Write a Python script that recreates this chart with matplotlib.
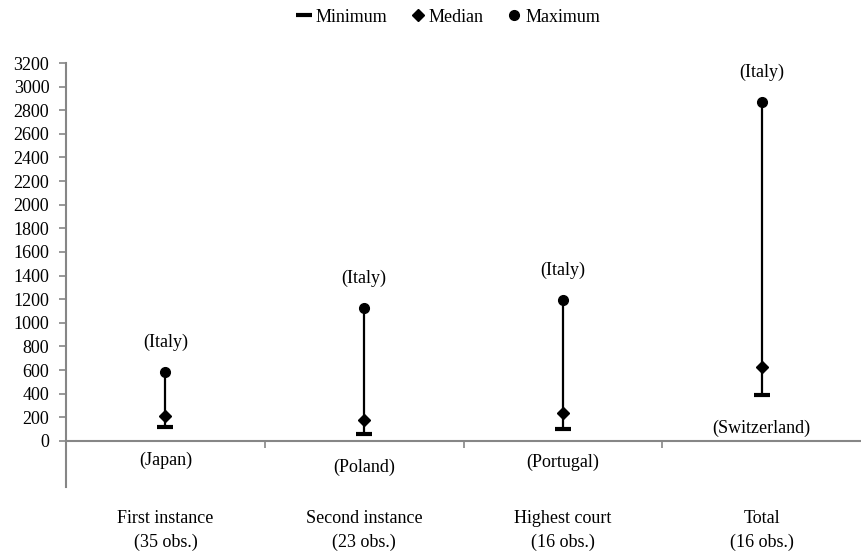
import matplotlib
matplotlib.use("Agg")
import matplotlib.pyplot as plt
import numpy as np

categories = ["First instance\n(35 obs.)", "Second instance\n(23 obs.)",
              "Highest court\n(16 obs.)", "Total\n(16 obs.)"]
minimum = [118, 60, 105, 390]
median = [210, 180, 237, 627]
maximum = [584, 1126, 1194, 2870]
max_country = ["(Italy)", "(Italy)", "(Italy)", "(Italy)"]
min_country = ["(Japan)", "(Poland)", "(Portugal)", "(Switzerland)"]
yticks = list(range(0, 3201, 200))

plt.rcParams["font.family"] = ["Liberation Serif", "DejaVu Serif"]
plt.rcParams["font.size"] = 13

gray = "#868686"
fig = plt.figure(figsize=(8.61, 5.52), dpi=100)
ax = fig.add_axes([66 / 861, 1 - 487 / 552, 1 - 66 / 861, (487 - 63) / 552])

x = np.arange(len(categories)) + 0.5
ax.vlines(x, minimum, maximum, color="black", lw=1.6, zorder=2)
ax.plot(x, minimum, ls="none", marker="_", ms=11, mew=3, color="black", label="Minimum", zorder=3)
ax.plot(x, median, ls="none", marker="D", ms=6, color="black", label="Median", zorder=3)
ax.plot(x, maximum, ls="none", marker="o", ms=7, color="black", label="Maximum", zorder=3)

for xi, v, s in zip(x, maximum, max_country):
    ax.annotate(s, (xi, v), xytext=(0, 21), textcoords="offset points",
                ha="center", va="center")
for xi, v, s in zip(x, minimum, min_country):
    ax.annotate(s, (xi, v), xytext=(0, -24), textcoords="offset points",
                ha="center", va="center")

ax.set_xlim(0, len(categories))
ax.set_ylim(-390, 3200)
ax.set_yticks(yticks)
ax.tick_params(axis="y", direction="out", length=5, color=gray, width=1.2, pad=7)

ax.spines["bottom"].set_position(("data", 0))
for side in ["top", "right"]:
    ax.spines[side].set_visible(False)
for side in ["left", "bottom"]:
    ax.spines[side].set_color(gray)
    ax.spines[side].set_linewidth(1.5)

ax.set_xticks(np.arange(1, len(categories)))
ax.set_xticklabels([])
ax.tick_params(axis="x", which="major", direction="out", length=5, color=gray, width=1.2)
ax.set_xticks(x, minor=True)
ax.set_xticklabels(categories, minor=True, linespacing=1.5)
ax.tick_params(axis="x", which="minor", length=0, pad=50)

fig.legend(loc="center", bbox_to_anchor=(0.52, 1 - 17 / 552), ncol=3, frameon=False,
           handletextpad=0.1, columnspacing=1.2, handlelength=1.0, fontsize=13)

fig.savefig("out.png", dpi=100)
